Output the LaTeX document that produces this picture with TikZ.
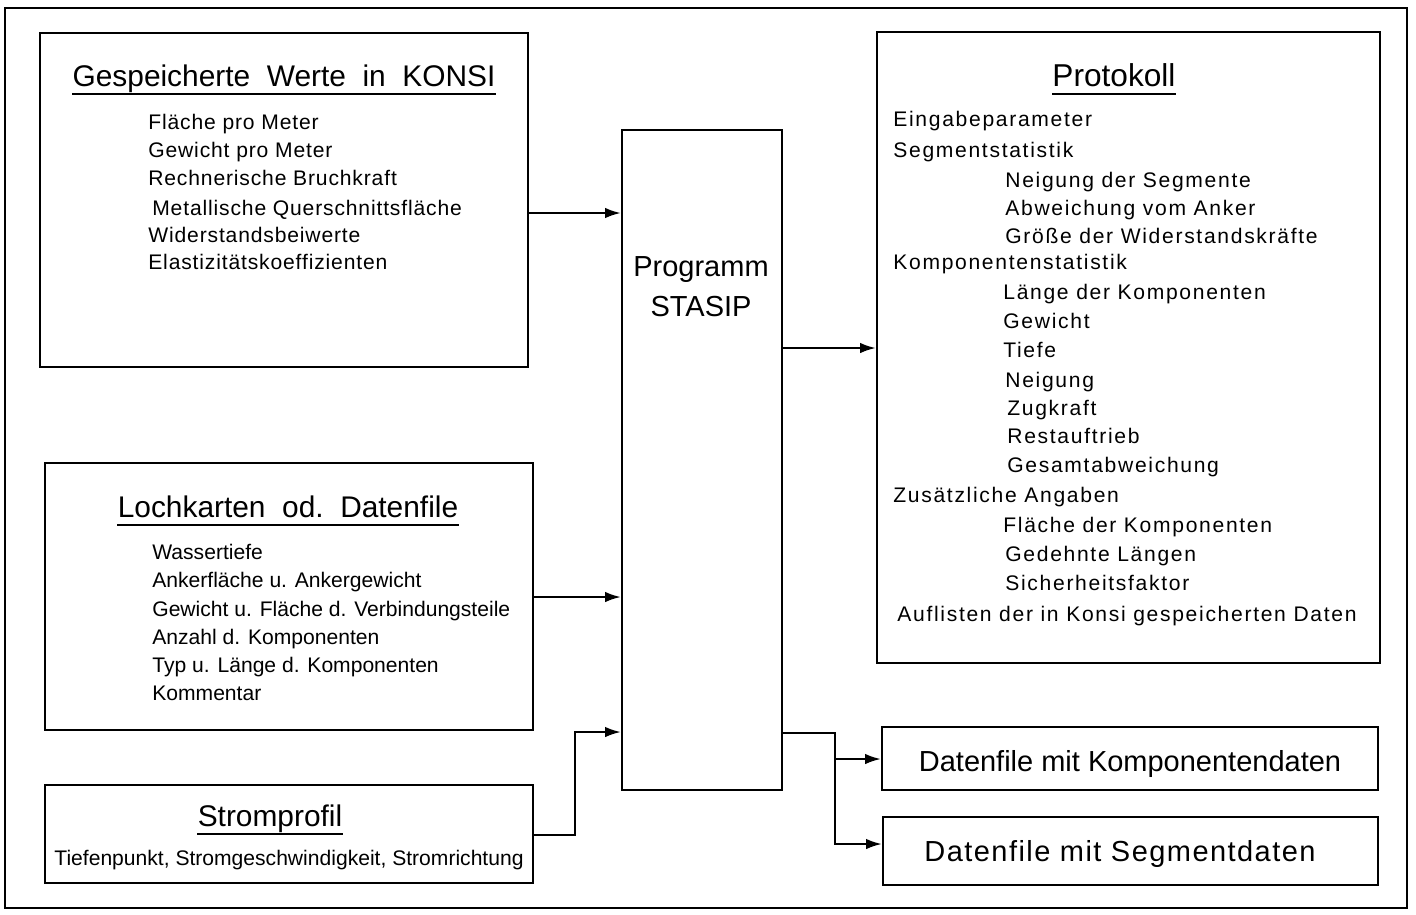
\documentclass[tikz,border=0pt]{standalone}
\usepackage{fontspec}
\setmainfont{Liberation Sans}
\usetikzlibrary{arrows.meta,fit}
\begin{document}
\begin{tikzpicture}[x=0.02cm,y=-0.02cm,
  box/.style={draw, line width=1.3pt, inner sep=0pt},
  item/.style={anchor=mid west, inner sep=0pt, yshift=-1.6pt, font=\fontsize{12}{14}\selectfont\addfontfeature{LetterSpace=4}},
  pitem/.style={item, font=\fontsize{12}{14}\selectfont\addfontfeature{LetterSpace=8}},
  litem/.style={item, font=\fontsize{12}{14}\selectfont},
  ttl/.style={anchor=mid, inner sep=0pt, yshift=-3pt, font=\fontsize{17}{20}\selectfont},
  big/.style={anchor=mid, inner sep=0pt, yshift=-3pt, font=\fontsize{16.5}{20}\selectfont},
  uline/.style={line width=1.1pt},
  conn/.style={line width=1.2pt},
  arr/.style={line width=1.2pt, -{Latex[length=9pt,width=6pt]}}]
\useasboundingbox (0,0) rectangle (1416,914);
\draw[line width=1.3pt] (5,8) rectangle (1407,908);
% boxes
\node[box, fit={(40,33) (528,367)}] (konsi) {};
\node[box, fit={(45,463) (533,730)}] (loch) {};
\node[box, fit={(45,785) (533,883)}] (strom) {};
\node[box, fit={(622,130) (782,790)}] (prog) {};
\node[box, fit={(877,32) (1380,663)}] (proto) {};
\node[box, fit={(882,727) (1378,790)}] (dk) {};
\node[box, fit={(883,817) (1378,885)}] (ds) {};
% KONSI
\node[ttl] (t1) at (284,77) {Gespeicherte\ \ Werte\ \ in\ \ KONSI};
\draw[uline] ([yshift=-4pt]t1.base west) -- ([yshift=-4pt]t1.base east);
\node[item] (k1) at (148,122) {Fläche pro Meter};
\node[item] (k2) at (148,150) {Gewicht pro Meter};
\node[item] (k3) at (148,178) {Rechnerische Bruchkraft};
\node[item] (k4) at (152,208) {Metallische Querschnittsfläche};
\node[item] (k5) at (148,235) {Widerstandsbeiwerte};
\node[item] (k6) at (148,262) {Elastizitätskoeffizienten};
% Lochkarten
\node[ttl] (t2) at (288,508) {Lochkarten\ \ od.\ \ Datenfile};
\draw[uline] ([yshift=-4pt]t2.base west) -- ([yshift=-4pt]t2.base east);
\node[litem] (l1) at (152,552) {Wassertiefe};
\node[litem] (l2) at (152,580) {Ankerfläche u. Ankergewicht};
\node[litem] (l3) at (152,609) {Gewicht u. Fläche d. Verbindungsteile};
\node[litem] (l4) at (152,637) {Anzahl d. Komponenten};
\node[litem] (l5) at (152,665) {Typ u. Länge d. Komponenten};
\node[litem] (l6) at (152,693) {Kommentar};
% Stromprofil
\node[ttl] (t3) at (270,817) {Stromprofil};
\draw[uline] ([yshift=-4pt]t3.base west) -- ([yshift=-4pt]t3.base east);
\node[litem, anchor=mid] (s1) at (289,858) {Tiefenpunkt, Stromgeschwindigkeit, Stromrichtung};
% Programm
\node[big] (p1) at (701,267) {Programm};
\node[big] (p2) at (701,307) {STASIP};
% Protokoll
\node[ttl, font=\fontsize{18}{20}\selectfont] (t4) at (1114,77) {Protokoll};
\draw[uline] ([yshift=-4pt]t4.base west) -- ([yshift=-4pt]t4.base east);
\node[pitem] (r1) at (893,119) {Eingabeparameter};
\node[pitem] (r2) at (893,150) {Segmentstatistik};
\node[pitem] (r3) at (1005,180) {Neigung der Segmente};
\node[pitem] (r4) at (1005,208) {Abweichung vom Anker};
\node[pitem] (r5) at (1005,236) {Größe der Widerstandskräfte};
\node[pitem] (r6) at (893,262) {Komponentenstatistik};
\node[pitem] (r7) at (1003,292) {Länge der Komponenten};
\node[pitem] (r8) at (1003,321) {Gewicht};
\node[pitem] (r9) at (1003,350) {Tiefe};
\node[pitem] (r10) at (1005,380) {Neigung};
\node[pitem] (r11) at (1007,408) {Zugkraft};
\node[pitem] (r12) at (1007,436) {Restauftrieb};
\node[pitem] (r13) at (1007,465) {Gesamtabweichung};
\node[pitem] (r14) at (893,495) {Zusätzliche Angaben};
\node[pitem] (r15) at (1003,525) {Fläche der Komponenten};
\node[pitem] (r16) at (1005,554) {Gedehnte Längen};
\node[pitem] (r17) at (1005,583) {Sicherheitsfaktor};
\node[pitem] (r18) at (897,614) {Auflisten der in Konsi gespeicherten Daten};
% Datenfiles
\node[big] (d1) at (1130,762) {Datenfile mit Komponentendaten};
\node[big, font=\fontsize{16.5}{20}\selectfont\addfontfeature{LetterSpace=5}] (d2) at (1120,852) {Datenfile mit Segmentdaten};
% connectors
\draw[arr] (konsi.east |- 0,213) -- (prog.west |- 0,213);
\draw[arr] (loch.east |- 0,597) -- (prog.west |- 0,597);
\draw[arr] (strom.east |- 0,835) -- (575,835) -- (575,732) -- (prog.west |- 0,732);
\draw[arr] (prog.east |- 0,348) -- (proto.west |- 0,348);
\draw[conn] (prog.east |- 0,733) -- (835,733) -- (835,759);
\draw[arr] (835,759) -- (dk.west |- 0,759);
\draw[arr] (835,759) -- (835,844) -- (ds.west |- 0,844);
\end{tikzpicture}
\end{document}
